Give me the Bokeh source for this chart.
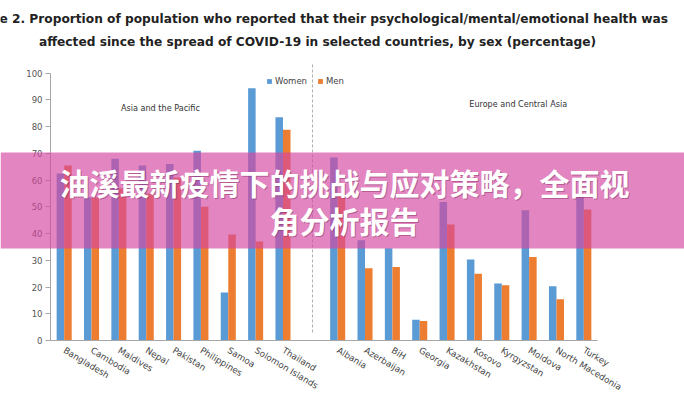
from bokeh.plotting import figure
from bokeh.models import (FactorRange, Range1d, ColumnDataSource, Legend, LegendItem,
                          Label, FixedTicker, GridBox, Column)
from bokeh.core.properties import value
from bokeh.transform import dodge
from bokeh.embed import file_html
from bokeh.resources import INLINE

# ---- data ----
asia = ["Bangladesh", "Cambodia", "Maldives", "Nepal", "Pakistan", "Philippines",
        "Samoa", "Solomon Islands", "Thailand"]
asia_women = [62.5, 53.5, 68.0, 65.5, 66.0, 71.0, 18.0, 94.4, 83.5]
asia_men = [65.5, 53.5, 57.0, 55.0, 61.0, 50.0, 39.7, 37.0, 78.8]

europe = ["Albania", "Azerbaijan", "BiH", "Georgia", "Kazakhstan", "Kosovo",
          "Kyrgyzstan", "Moldova", "North Macedonia", "Turkey"]
europe_women = [68.5, 37.5, 34.5, 7.8, 51.8, 30.3, 21.3, 48.7, 20.3, 54.0]
europe_men = [55.0, 27.0, 27.5, 7.3, 43.4, 25.0, 20.7, 31.2, 15.4, 49.0]

gap = " "
factors = asia + [gap] + europe
countries = asia + europe
women = asia_women + europe_women
men = asia_men + europe_men
y_ticks = [0, 10, 20, 30, 40, 50, 60, 70, 80, 90, 100]

title1 = "e 2. Proportion of population who reported that their psychological/mental/emotional health was"
title2 = "affected since the spread of COVID-19 in selected countries, by sex (percentage)"
banner1 = "油溪最新疫情下的挑战与应对策略，全面视"
banner2 = "角分析报告"

W, H = 684, 400
src = ColumnDataSource(dict(country=countries, women=women, men=men))

p = figure(width=W, height=H, x_range=FactorRange(factors=factors),
           y_range=Range1d(0, 104), output_backend="svg", toolbar_location=None,
           min_border_left=50, min_border_right=87, min_border_top=62,
           min_border_bottom=60)
p.outline_line_color = None
p.xgrid.grid_line_color = None
p.ygrid.grid_line_color = None
p.background_fill_color = "white"

bw = 0.275
rw = p.vbar(x=dodge("country", -bw / 2, range=p.x_range), top="women", width=bw,
            source=src, fill_color="#5B9BD5", line_color=None)
rm = p.vbar(x=dodge("country", bw / 2, range=p.x_range), top="men", width=bw,
            source=src, fill_color="#ED7D31", line_color=None)

# separator between regions
p.segment(x0=[9.58], y0=[3], x1=[9.58], y1=[104], line_color="#b0b0b0",
          line_dash="3 2", line_width=1)

# axes
p.yaxis.ticker = FixedTicker(ticks=y_ticks)
p.yaxis.bounds = (0, 100)
p.yaxis.axis_line_color = "#a6a6a6"
p.yaxis.major_tick_line_color = "#a6a6a6"
p.yaxis.major_tick_out = 5
p.yaxis.major_tick_in = 0
p.yaxis.minor_tick_line_color = None
p.yaxis.major_label_text_font = "DejaVu Sans"
p.yaxis.major_label_text_font_size = "8.5px"
p.yaxis.major_label_text_color = "#555555"
p.yaxis.major_label_standoff = 3

p.xaxis.axis_line_color = "#a6a6a6"
p.xaxis.major_tick_line_color = None
p.xaxis.minor_tick_line_color = None
p.xaxis.major_label_orientation = -0.54
p.xaxis.major_label_text_font = "DejaVu Sans"
p.xaxis.major_label_text_font_size = "8.8px"
p.xaxis.major_label_text_color = "#444444"
p.xaxis.major_label_standoff = 3

legend = Legend(items=[LegendItem(label="Women", renderers=[rw]),
                       LegendItem(label="Men", renderers=[rm])],
                orientation="horizontal", location=(216, 254),
                glyph_width=6, glyph_height=6, label_standoff=3, spacing=10,
                padding=0, margin=0, label_height=10,
                label_text_font="DejaVu Sans", label_text_font_size="8.5px",
                label_text_color="#444444", border_line_color=None,
                background_fill_alpha=0)
p.add_layout(legend, "center")

for txt, xx, yy in [("Asia and the Pacific", 4.02, 87.0),
                    ("Europe and Central Asia", 17.1, 88.3)]:
    p.add_layout(Label(x=xx, y=yy, text=txt, text_align="center",
                       text_baseline="middle", text_font="DejaVu Sans",
                       text_font_size="8.1px", text_color="#333333"))

# ---- overlay figure (titles + banner), pixel coordinates from top-left ----
q = figure(width=W, height=H, x_range=Range1d(0, W), y_range=Range1d(H, 0),
           output_backend="svg", toolbar_location=None, x_axis_type=None,
           y_axis_type=None, min_border_left=0, min_border_right=0,
           min_border_top=0, min_border_bottom=0)
q.outline_line_color = None
q.xgrid.grid_line_color = None
q.ygrid.grid_line_color = None
q.background_fill_alpha = 0
q.border_fill_alpha = 0

q.text(x=[-1], y=[18], text=[title1], text_align="left", text_baseline="middle",
       text_font=value("DejaVu Sans"), text_font_style="bold",
       text_font_size="12.2px", text_color="#222222")
q.text(x=[317], y=[41], text=[title2], text_align="center", text_baseline="middle",
       text_font=value("DejaVu Sans"), text_font_style="bold",
       text_font_size="12.2px", text_color="#222222")

q.quad(left=[0], right=[W], top=[152], bottom=[248], fill_color="#d5469f",
       fill_alpha=0.66, line_color=None)
q.text(x=[345, 345], y=[182, 220], text=[banner1, banner2], text_align="center",
       text_baseline="middle", text_font=value("Noto Sans CJK SC"),
       text_font_style="bold", text_font_size="30px", text_color="#7a2a5a",
       text_alpha=0.45)
q.text(x=[344, 344], y=[181, 219], text=[banner1, banner2], text_align="center",
       text_baseline="middle", text_font=value("Noto Sans CJK SC"),
       text_font_style="bold", text_font_size="30px", text_color="white")

grid = GridBox(children=[(Column(children=[p]), 0, 0), (Column(children=[q]), 0, 0)])
open("out.html", "w").write(file_html(grid, INLINE))
